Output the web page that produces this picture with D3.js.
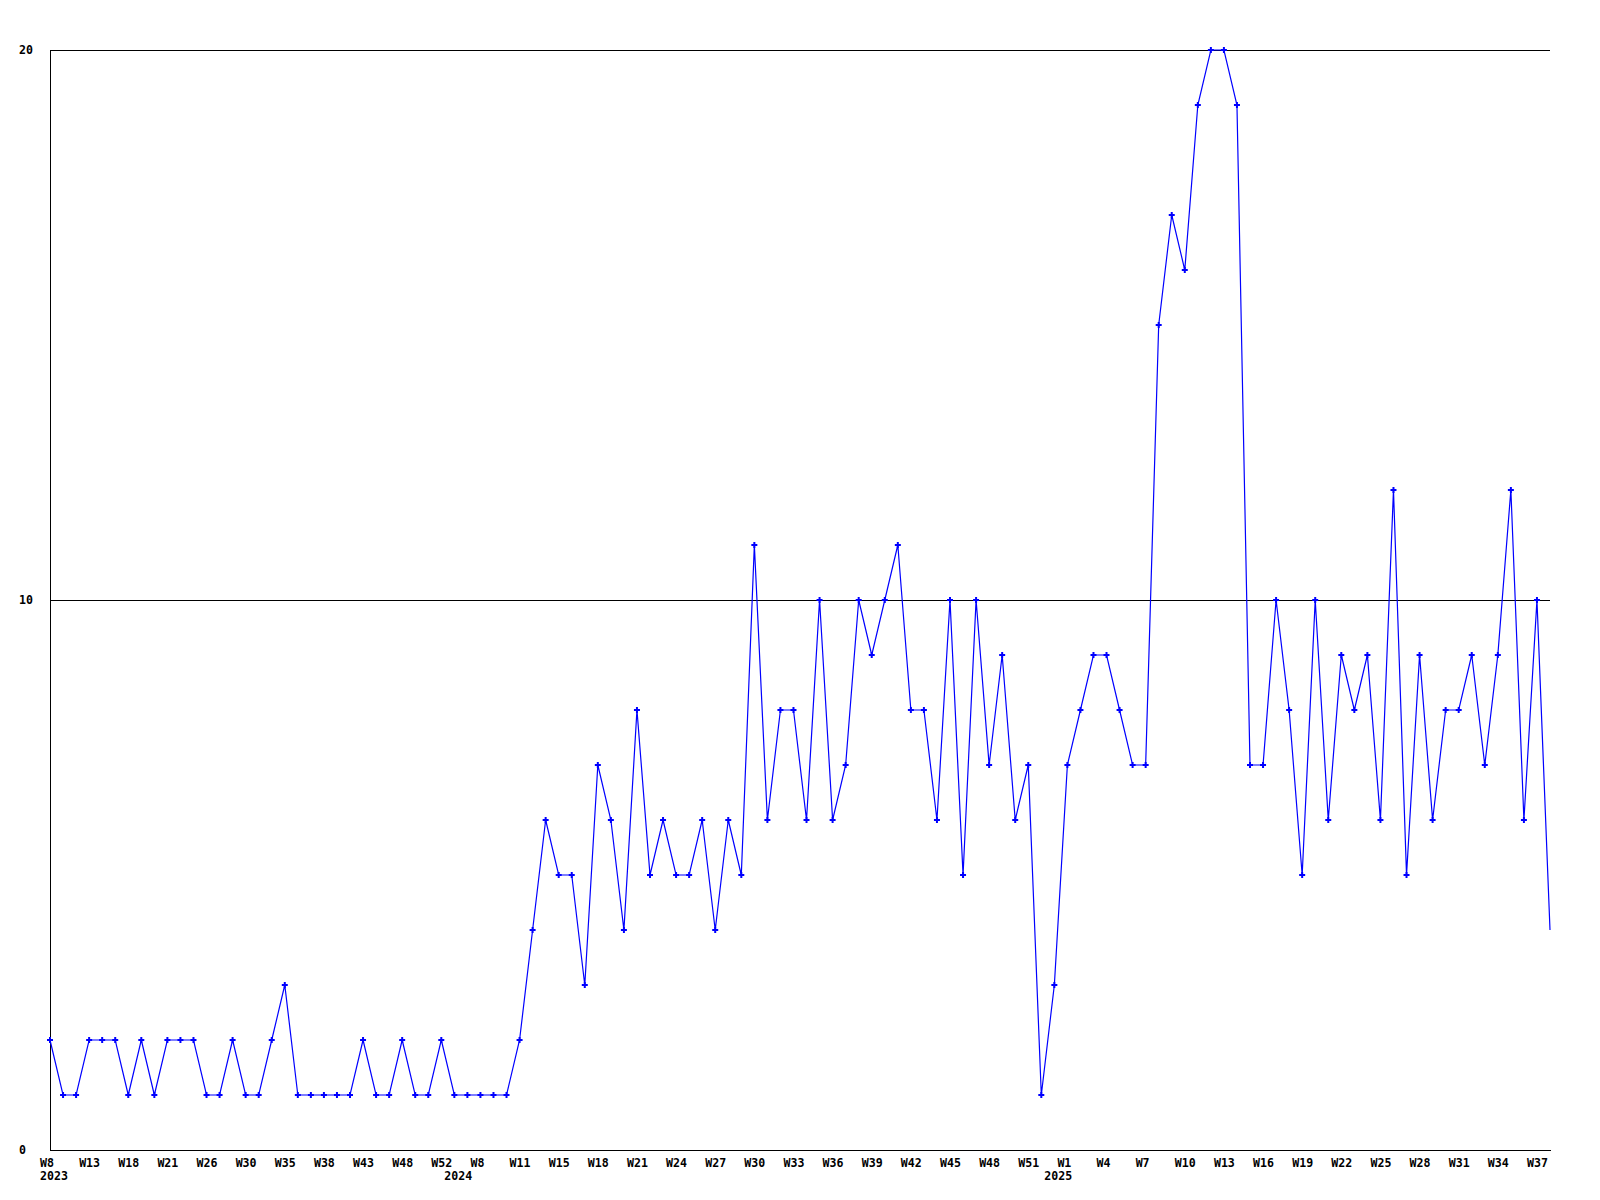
<!DOCTYPE html>
<html>
<head>
<meta charset="utf-8">
<script src="https://cdn.jsdelivr.net/npm/d3@7"></script>
<style>
    body { margin: 0; background: #fff; }
    text { font-family: "DejaVu Sans Mono", "Liberation Mono", monospace; font-weight: bold; font-size: 11.6px; fill: #000; }
</style>
</head>
<body>
<div id="chart"></div>
<script>
// weekly counts, one per point
const values = [2, 1, 1, 2, 2, 2, 1, 2, 1, 2, 2, 2, 1, 1, 2, 1, 1, 2, 3, 1, 1, 1, 1, 1, 2, 1, 1, 2, 1, 1, 2, 1, 1, 1, 1, 1, 2,
    4, 6, 5, 5, 3, 7, 6, 4, 8, 5, 6, 5, 5, 6, 4, 6, 5, 11, 6, 8, 8, 6, 10, 6, 7, 10, 9, 10, 11, 8, 8, 6, 10, 5, 10, 7, 9, 6, 7, 1,
    3, 7, 8, 9, 9, 8, 7, 7, 15, 17, 16, 19, 20, 20, 19, 7, 7, 10, 8, 5, 10, 6, 9, 8, 9, 6, 12, 5, 9, 6, 8, 8, 9, 7, 9, 12, 6, 10, 4];

// every third point gets a week label
const weekLabels = ['W8', 'W13', 'W18', 'W21', 'W26', 'W30', 'W35', 'W38', 'W43', 'W48', 'W52', 'W8', 'W11',
    'W15', 'W18', 'W21', 'W24', 'W27', 'W30', 'W33', 'W36', 'W39', 'W42', 'W45', 'W48', 'W51', 'W1', 'W4',
    'W7', 'W10', 'W13', 'W16', 'W19', 'W22', 'W25', 'W28', 'W31', 'W34', 'W37'];

const yearLabels = ['2023', '2024', '2025'];
const yearIndex = [0, 31, 77];

const yTicks = [0, 10, 20];

const svg = d3.select('#chart').append('svg').attr('width', 1600).attr('height', 1200);

const plot = { left: 50, right: 1550, top: 50, bottom: 1150 };

const x = d3.scaleLinear().domain([0, values.length - 1]).range([plot.left, plot.right]);
const y = d3.scaleLinear().domain([0, 20]).range([plot.bottom, plot.top]);

// grid lines
svg.append('g')
    .selectAll('line')
    .data(yTicks.filter(t => t > 0))
    .enter().append('line')
    .attr('x1', plot.left)
    .attr('x2', plot.right)
    .attr('y1', d => y(d) + 0.5)
    .attr('y2', d => y(d) + 0.5)
    .attr('stroke', '#000')
    .attr('shape-rendering', 'crispEdges');

// axes
svg.append('line')
    .attr('x1', plot.left + 0.5).attr('x2', plot.left + 0.5)
    .attr('y1', plot.top).attr('y2', plot.bottom + 1)
    .attr('stroke', '#000').attr('shape-rendering', 'crispEdges');
svg.append('line')
    .attr('x1', plot.left).attr('x2', plot.right + 1)
    .attr('y1', plot.bottom + 0.5).attr('y2', plot.bottom + 0.5)
    .attr('stroke', '#000').attr('shape-rendering', 'crispEdges');

// y labels
svg.append('g')
    .selectAll('text')
    .data(yTicks)
    .enter().append('text')
    .attr('x', 19)
    .attr('y', d => y(d) + 4)
    .text(d => d);

// x labels
svg.append('g')
    .selectAll('text')
    .data(weekLabels)
    .enter().append('text')
    .attr('x', (d, i) => x(i * 3) - 10)
    .attr('y', 1167)
    .text(d => d);

svg.append('g')
    .selectAll('text')
    .data(yearLabels)
    .enter().append('text')
    .attr('x', (d, i) => x(yearIndex[i]) - 10)
    .attr('y', 1180)
    .text(d => d);

const line = d3.line()
    .x((d, i) => x(i))
    .y(d => y(d));

svg.append('path')
    .datum(values)
    .attr('fill', 'none')
    .attr('stroke', '#0000ff')
    .attr('stroke-width', 1.2)
    .attr('d', line);

// markers (last point has none)
const marker = d3.symbol().type(d3.symbolCross).size(20);
svg.append('g')
    .selectAll('path')
    .data(values.slice(0, -1))
    .enter().append('path')
    .attr('transform', (d, i) => `translate(${x(i)},${y(d)})`)
    .attr('d', marker)
    .attr('fill', '#0000ff');
</script>
</body>
</html>
